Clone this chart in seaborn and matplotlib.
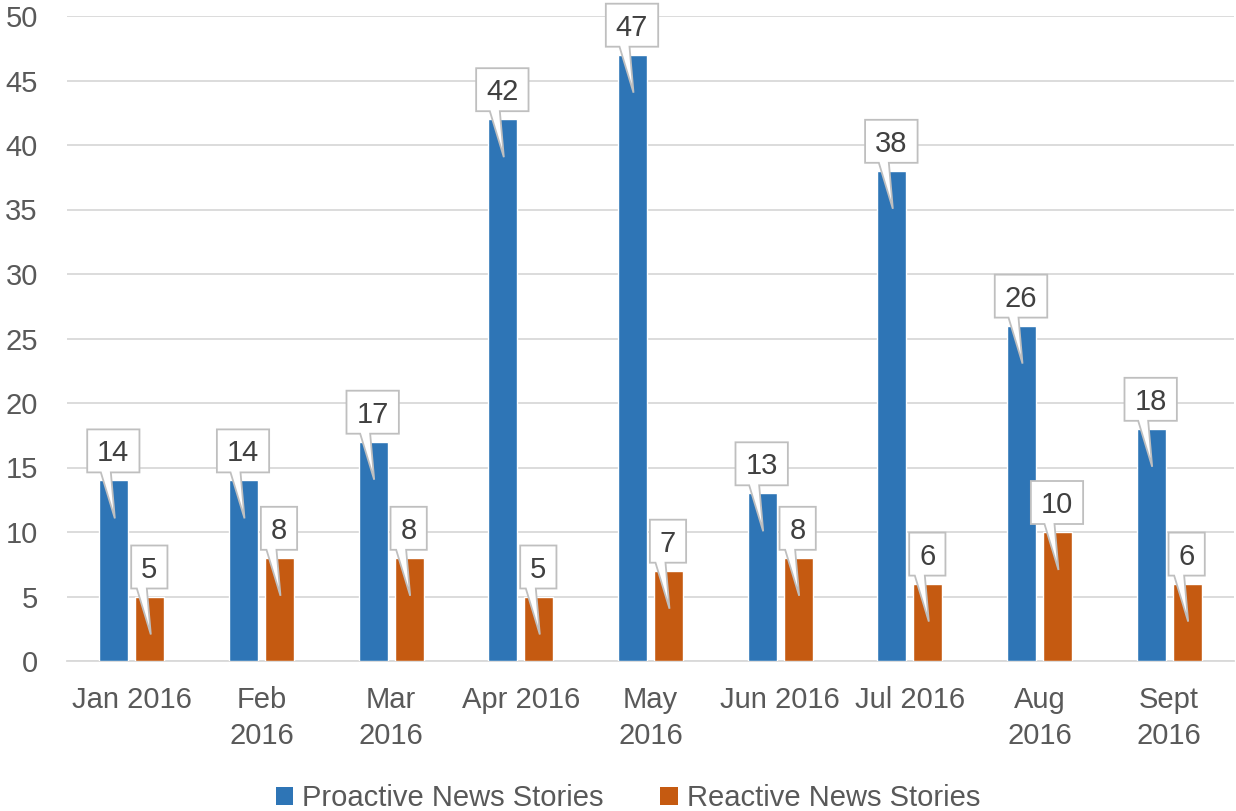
import matplotlib
matplotlib.use("Agg")
import matplotlib.pyplot as plt
import matplotlib.transforms as mtransforms
from matplotlib.patches import Polygon, Patch
import seaborn as sns
import pandas as pd

months = ["Jan 2016", "Feb\n2016", "Mar\n2016", "Apr 2016", "May\n2016",
          "Jun 2016", "Jul 2016", "Aug\n2016", "Sept\n2016"]
proactive = [14, 14, 17, 42, 47, 13, 38, 26, 18]
reactive = [5, 8, 8, 5, 7, 8, 6, 10, 6]
series = ["Proactive News Stories", "Reactive News Stories"]
colors = ["#2E75B6", "#C55A11"]
y_ticks = list(range(0, 51, 5))

df = pd.DataFrame({
    "Month": months * 2,
    "Stories": proactive + reactive,
    "Series": [series[0]] * len(months) + [series[1]] * len(months),
})

sns.set_theme(style="white")
plt.rcParams["font.family"] = ["Liberation Sans", "DejaVu Sans"]

W, H = 1236, 811
fig = plt.figure(figsize=(W / 100, H / 100), dpi=100)
ax = fig.add_axes([67 / W, 1 - 661 / H, (1234 - 67) / W, (661 - 16) / H])

sns.barplot(data=df, x="Month", y="Stories", hue="Series", order=months,
            hue_order=series, palette=colors, width=0.555, gap=0.19,
            saturation=1, ax=ax, legend=False, zorder=3)

ax.set_ylim(0, 50)
ax.set_xlim(-0.5, len(months) - 0.5)
ax.set_yticks(y_ticks)
ax.yaxis.grid(True, color="#d9d9d9", lw=1.3)
ax.set_axisbelow(True)
for s in ["left", "right", "top"]:
    ax.spines[s].set_visible(False)
ax.spines["bottom"].set_color("#d9d9d9")
ax.spines["bottom"].set_linewidth(1.3)
ax.set_xlabel("")
ax.set_ylabel("")
ax.tick_params(axis="y", length=0, labelsize=21, labelcolor="#595959", pad=21)
ax.tick_params(axis="x", length=0, labelsize=21, labelcolor="#595959", pad=18)
for lab in ax.get_xticklabels():
    lab.set_linespacing(1.36)

handles = [Patch(facecolor=c, edgecolor="none") for c in colors]
fig.legend(handles, series, loc="lower center", bbox_to_anchor=(0.508, -0.034),
           ncol=2, frameon=False,
           prop={"family": ["Liberation Sans Narrow", "Liberation Sans"], "size": 21},
           handlelength=0.6, handleheight=0.6, handletextpad=0.3,
           columnspacing=1.95, labelcolor="#595959")

fig.canvas.draw()
renderer = fig.canvas.get_renderer()
ident = mtransforms.IdentityTransform()
for container in ax.containers:
    for bar in container:
        val = bar.get_height()
        cx = bar.get_x() + bar.get_width() / 2
        X, Y = ax.transData.transform((cx, val))
        bottom = Y + 8
        top = bottom + 43
        mid = (bottom + top) / 2
        t = ax.text(X - 0.5, mid - 10.5, f"{int(round(val))}", transform=ident,
                    ha="center", va="baseline", fontsize=21, color="#404040",
                    zorder=6, clip_on=False)
        w = t.get_window_extent(renderer).width
        hw = w / 2 + 10
        left, right = X - 0.5 - hw, X - 0.5 + hw
        verts = [(left, bottom), (X - 13, bottom), (X + 1, Y - 38),
                 (X - 3, bottom), (right, bottom), (right, top), (left, top)]
        poly = Polygon(verts, closed=True, facecolor="white", edgecolor="#bfbfbf",
                       lw=1.3, transform=ident, zorder=5, clip_on=False)
        ax.add_artist(poly)

fig.savefig("out.png", dpi=100)
